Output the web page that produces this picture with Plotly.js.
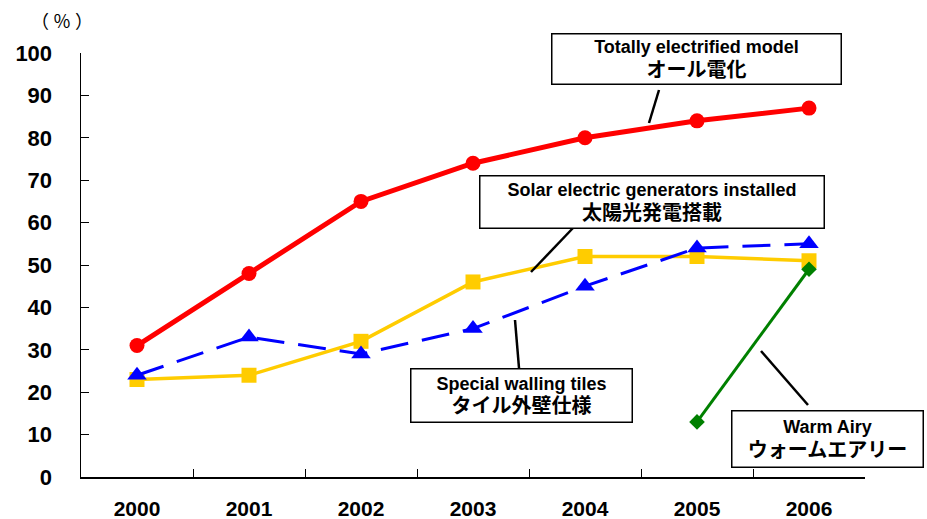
<!DOCTYPE html>
<html><head><meta charset="utf-8">
<script src="https://cdn.plot.ly/plotly-3.0.1.min.js"></script>
<style>html,body{margin:0;padding:0;background:#fff}#c{width:927px;height:519px}</style>
</head><body><div id="c"></div>
<script>
const years = ['2000','2001','2002','2003','2004','2005','2006'];
const allElectric = [31, 48, 65, 74, 80, 84, 87];
const wallTiles = [24, 33, 29, 35, 45, 54, 55];
const solar = [23, 24, 32, 46, 52, 52, 51];
const warmYears = ['2005','2006'];
const warmAiry = [13, 49];

const F = '"Liberation Sans", "Noto Sans CJK JP", sans-serif';
const traces = [
  {x: years, y: solar, mode:'lines+markers', line:{color:'#FFCC00', width:3.5}, marker:{symbol:'square', size:15, color:'#FFCC00'}},
  {x: years, y: wallTiles, mode:'lines+markers', line:{color:'#0000FF', width:3, dash:'28px,14px'}, marker:{symbol:'triangle-up', size:17, color:'#0000FF'}},
  {x: years, y: allElectric, mode:'lines+markers', line:{color:'#FF0000', width:5}, marker:{symbol:'circle', size:15, color:'#FF0000'}},
  {x: warmYears, y: warmAiry, mode:'lines+markers', line:{color:'#008000', width:3}, marker:{symbol:'diamond', size:12, color:'#008000'}}
];
const boxFont = {family:F, size:18, color:'#000', weight:'bold'};
function box(x, y, w, h, en, ja){
  return {xref:'paper', yref:'paper', x:x, y:y, xanchor:'left', yanchor:'top', width:w, height:h,
    text:en + '<br><span style="font-size:20px">' + ja + '</span>', showarrow:false, align:'center', valign:'middle',
    bgcolor:'#fff', bordercolor:'#000', borderwidth:1.5, borderpad:0, font:boxFont};
}
// paper coords: plot area x 81..865 (784 wide), y 53..477 (424 tall)
function px(x){return (x-81)/784;}
function py(y){return (477-y)/424;}
const layout = {
  width:927, height:519, showlegend:false,
  paper_bgcolor:'#fff', plot_bgcolor:'#fff',
  margin:{l:81, r:62, t:53, b:42},
  xaxis:{type:'category', range:[-0.5,6.5], showline:true, linecolor:'#000', linewidth:1.5,
    ticks:'inside', ticklen:8, tickcolor:'#000', tickson:'boundaries', showgrid:false, zeroline:false,
    tickfont:{family:F, size:21, color:'#000', weight:'bold'}, ticklabelstandoff:12},
  yaxis:{range:[0,100], dtick:10, tick0:0, showline:true, linecolor:'#000', linewidth:1.5,
    ticks:'inside', ticklen:8, tickcolor:'#000', showgrid:false, zeroline:false,
    tickfont:{family:F, size:22, color:'#000', weight:'bold'}, ticklabelstandoff:23},
  annotations:[
    {xref:'paper', yref:'paper', x:px(62), y:py(20), xanchor:'center', yanchor:'middle', text:'（ ％ ）', showarrow:false, font:{family:'"Noto Sans CJK JP"', size:18, color:'#000'}},
    box(px(551), py(33), 288, 49, 'Totally electrified model', 'オール電化'),
    box(px(479), py(175), 343, 51, 'Solar electric generators installed', '太陽光発電搭載'),
    box(px(410), py(368), 220, 52, 'Special walling tiles', 'タイル外壁仕様'),
    box(px(731), py(410), 190, 55, 'Warm Airy', 'ウォームエアリー')
  ],
  shapes:[
    {type:'line', xref:'paper', yref:'paper', x0:px(659), y0:py(90), x1:px(649), y1:py(123), line:{color:'#000', width:2.5}},
    {type:'line', xref:'paper', yref:'paper', x0:px(573), y0:py(228), x1:px(531), y1:py(272), line:{color:'#000', width:2.5}},
    {type:'line', xref:'paper', yref:'paper', x0:px(515), y0:py(320), x1:px(519), y1:py(368), line:{color:'#000', width:2.5}},
    {type:'line', xref:'paper', yref:'paper', x0:px(761), y0:py(351), x1:px(808), y1:py(405), line:{color:'#000', width:2.5}}
  ]
};
Plotly.newPlot('c', traces, layout, {displayModeBar:false, staticPlot:true});
</script></body></html>
